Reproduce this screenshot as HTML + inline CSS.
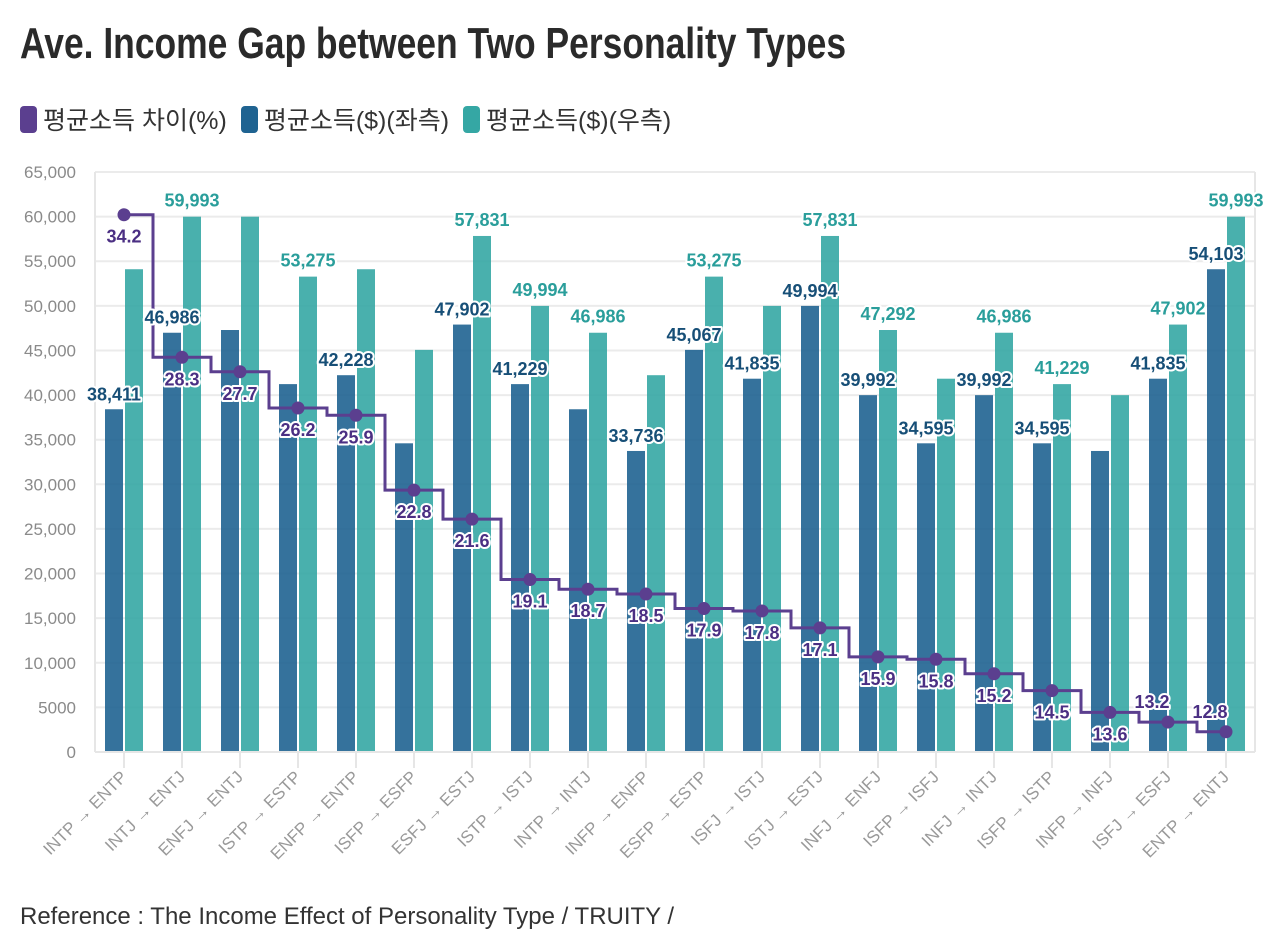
<!DOCTYPE html>
<html><head><meta charset="utf-8"><style>
body{margin:0;background:#fff;width:1280px;height:911px;overflow:hidden;font-family:"Liberation Sans","Noto Sans CJK KR",sans-serif;position:relative}
#title{position:absolute;left:20px;top:19px;font-family:"Liberation Sans",sans-serif;font-weight:bold;font-size:44px;color:#2a2a2a;transform:scaleX(0.805);transform-origin:0 0;white-space:nowrap}
#legend{position:absolute;left:20px;top:101px;font-size:25px;color:#333;display:flex;gap:14px}
.li{display:flex;align-items:center;gap:6px}
.sw{width:17px;height:27px;border-radius:4px;display:inline-block}
#foot{position:absolute;left:20px;top:903px;font-size:24px;color:#333;white-space:nowrap}
svg{position:absolute;left:0;top:0}
</style></head><body>
<div id="title">Ave. Income Gap between Two Personality Types</div>
<div id="legend">
<div class="li"><span class="sw" style="background:#5b3f8f"></span>평균소득 차이(%)</div>
<div class="li"><span class="sw" style="background:#1f6391"></span>평균소득($)(좌측)</div>
<div class="li"><span class="sw" style="background:#35a7a4"></span>평균소득($)(우측)</div>
</div>
<svg id="chart" width="1280" height="911"></svg>
<div id="foot">Reference : The Income Effect of Personality Type / TRUITY /</div>
<script>
const categories=["INTP → ENTP","INTJ → ENTJ","ENFJ → ENTJ","ISTP → ESTP","ENFP → ENTP","ISFP → ESFP","ESFJ → ESTJ","ISTP → ISTJ","INTP → INTJ","INFP → ENFP","ESFP → ESTP","ISFJ → ISTJ","ISTJ → ESTJ","INFJ → ENFJ","ISFP → ISFJ","INFJ → INTJ","ISFP → ISTP","INFP → INFJ","ISFJ → ESFJ","ENTP → ENTJ"];
const leftIncome=[38411,46986,47292,41229,42228,34595,47902,41229,38411,33736,45067,41835,49994,39992,34595,39992,34595,33736,41835,54103];
const rightIncome=[54103,59993,59993,53275,54103,45067,57831,49994,46986,42228,53275,49994,57831,47292,41835,46986,41229,39992,47902,59993];
const gapPct=[34.2,28.3,27.7,26.2,25.9,22.8,21.6,19.1,18.7,18.5,17.9,17.8,17.1,15.9,15.8,15.2,14.5,13.6,13.2,12.8];
const showLeftLabel=[1,1,0,0,1,0,1,1,0,1,1,1,1,1,1,1,1,0,1,1];
const showRightLabel=[0,1,0,1,0,0,1,1,1,0,1,0,1,1,0,1,1,0,1,1];
const yTicks=[0,5000,10000,15000,20000,25000,30000,35000,40000,45000,50000,55000,60000,65000];
const yTickLabels=["0","5000","10,000","15,000","20,000","25,000","30,000","35,000","40,000","45,000","50,000","55,000","60,000","65,000"];

const svg=document.getElementById('chart');const NS='http://www.w3.org/2000/svg';
function mk(t,a,p){const e=document.createElementNS(NS,t);for(const k in a)e.setAttribute(k,a[k]);(p||svg).appendChild(e);return e;}
const L=95,R=1255,Y0=752,YT=172;
const y=v=>Y0-(v/65000)*(Y0-YT);
const yp=v=>1041-v*24.16;
const xc=i=>124+i*58;
const fmt=v=>v.toLocaleString('en-US');
yTicks.forEach((t,i)=>{
 const g=mk('line',{x1:L,x2:R,y1:y(t),y2:y(t),stroke:'#ebebeb','stroke-width':2});
 
 
 const tl=mk('text',{x:76,y:y(t)+6,'text-anchor':'end','font-size':17,fill:'#8a8a8a'});
 tl.textContent=yTickLabels[i];
 
 
});
mk('line',{x1:L,x2:L,y1:YT,y2:Y0,stroke:'#e6e6e6','stroke-width':2});
mk('line',{x1:R,x2:R,y1:YT,y2:Y0,stroke:'#e6e6e6','stroke-width':2});
categories.forEach((c,i)=>{
 const b1=mk('rect',{x:xc(i)-19,y:y(leftIncome[i]),width:18,height:Y0-y(leftIncome[i]),fill:'#1f6391','fill-opacity':0.9});
 
 
 const b2=mk('rect',{x:xc(i)+1,y:y(rightIncome[i]),width:18,height:Y0-y(rightIncome[i]),fill:'#35a7a4','fill-opacity':0.9});
 
 
 mk('line',{x1:xc(i),x2:xc(i),y1:Y0,y2:Y0+16,stroke:'#e6e6e6','stroke-width':2});
 const tx=mk('text',{transform:`translate(${xc(i)+4},${Y0+26}) rotate(-45)`,'text-anchor':'end','font-size':17,fill:'#999'});
 tx.textContent=c;
 
 
});
mk('line',{x1:L,x2:R,y1:Y0,y2:Y0,stroke:'#e6e6e6','stroke-width':2});
let d=`M${xc(0)},${yp(gapPct[0])}`;
for(let i=1;i<gapPct.length;i++){const mx=(xc(i-1)+xc(i))/2;d+=` H${mx} V${yp(gapPct[i])} H${xc(i)}`;}
const ln=mk('path',{d:d,fill:'none',stroke:'#5b3f8f','stroke-width':3});


function lbl(x,yy,t,col,nm){const e=mk('text',{x:x,y:yy,'text-anchor':'middle','font-size':18,'font-weight':'bold',fill:col,stroke:'#fff','stroke-width':4,'paint-order':'stroke','stroke-linejoin':'round'});e.textContent=t;}
categories.forEach((c,i)=>{
 if(showLeftLabel[i])lbl(xc(i)-10,y(leftIncome[i])-9,fmt(leftIncome[i]),'#174f77','label-left-'+i);
 if(showRightLabel[i])lbl(xc(i)+10,y(rightIncome[i])-10,fmt(rightIncome[i]),'#2a9e9b','label-right-'+i);
});
gapPct.forEach((v,i)=>{
 const p=mk('circle',{cx:xc(i),cy:yp(v),r:6.5,fill:'#5b3f8f'});
 
 
 if(i>=18)lbl(xc(i)-16,yp(v)-14,v.toFixed(1),'#4b2f83','gap-label-'+i);
 else lbl(xc(i),yp(v)+28,v.toFixed(1),'#4b2f83','gap-label-'+i);
});
</script>
</body></html>
